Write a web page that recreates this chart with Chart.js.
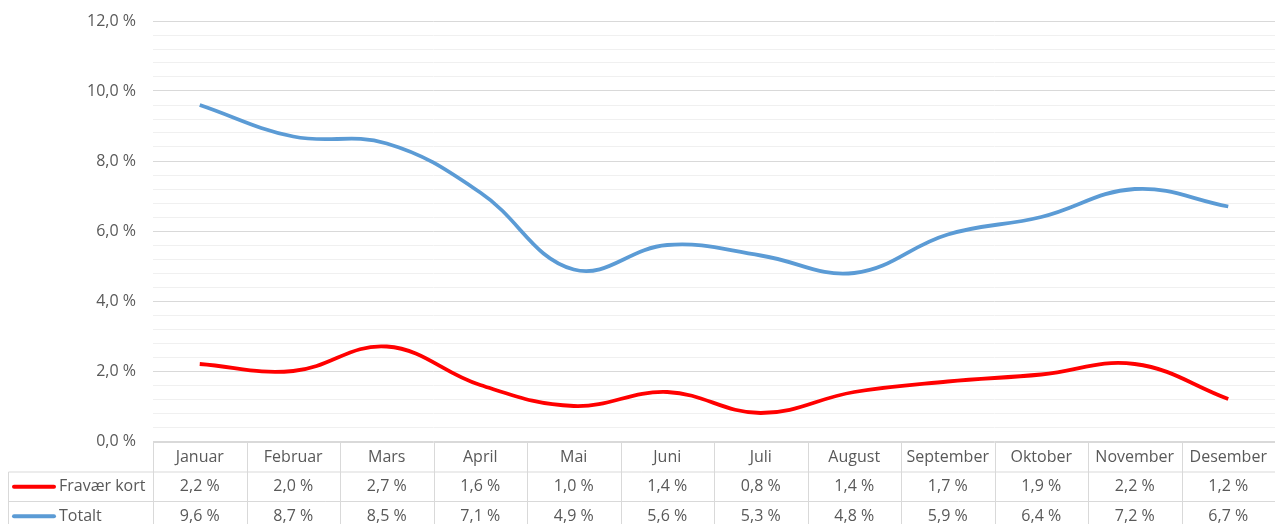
<!DOCTYPE html>
<html>
<head>
<meta charset="utf-8">
<script src="https://cdn.jsdelivr.net/npm/chart.js@4.4.1/dist/chart.umd.min.js"></script>
<style>
  html, body { margin: 0; padding: 0; background: #fff; }
  #wrap { width: 1275px; height: 524px; position: relative; }
</style>
</head>
<body>
<div id="wrap"><canvas id="c"></canvas></div>
<script>
const months = ['Januar','Februar','Mars','April','Mai','Juni','Juli','August','September','Oktober','November','Desember'];
const fravaerKort = [2.2, 2.0, 2.7, 1.6, 1.0, 1.4, 0.8, 1.4, 1.7, 1.9, 2.2, 1.2];
const totalt = [9.6, 8.7, 8.5, 7.1, 4.9, 5.6, 5.3, 4.8, 5.9, 6.4, 7.2, 6.7];
const seriesNames = ['Fravær kort', 'Totalt'];
const seriesColors = ['#FF0000', '#5B9BD5'];

const FONT = '"Open Sans", "Liberation Sans", sans-serif';
const TEXT = '#595959';
const fmt = v => v.toFixed(1).replace('.', ',') + ' %';
const isMajor = v => Math.abs(v / 2 - Math.round(v / 2)) < 1e-6;

const tablePlugin = {
  id: 'dataTable',
  afterDraw(chart) {
    const ctx = chart.ctx;
    const x = chart.scales.x;
    const area = chart.chartArea;
    const n = months.length;
    const colW = (x.right - x.left) / n;
    const top = area.bottom + 1.5;
    const rowH = 29.5;
    const legendLeft = 8.5;
    const rows = [fravaerKort, totalt];
    ctx.save();
    ctx.strokeStyle = '#D9D9D9';
    ctx.lineWidth = 1;
    ctx.beginPath();
    ctx.moveTo(x.left, top); ctx.lineTo(x.right, top);
    for (let r = 1; r <= 3; r++) {
      const yy = top + rowH * r;
      ctx.moveTo(legendLeft, yy); ctx.lineTo(x.right, yy);
    }
    for (let i = 0; i <= n; i++) {
      const xx = Math.round(x.left + colW * i) + 0.5;
      ctx.moveTo(xx, top); ctx.lineTo(xx, top + rowH * 3);
    }
    ctx.moveTo(legendLeft, top + rowH); ctx.lineTo(legendLeft, top + rowH * 3);
    ctx.stroke();

    ctx.font = '16px ' + FONT;
    ctx.fillStyle = TEXT;
    ctx.textAlign = 'center';
    ctx.textBaseline = 'middle';
    months.forEach((m, i) => {
      const cx = x.getPixelForValue(i);
      ctx.fillText(m, cx, top + rowH / 2);
      rows.forEach((vals, r) => {
        ctx.fillText(fmt(vals[i]), cx, top + rowH * (r + 1.5));
      });
    });
    ctx.textAlign = 'left';
    seriesNames.forEach((name, r) => {
      const cy = top + rowH * (r + 1.5);
      ctx.strokeStyle = seriesColors[r];
      ctx.lineWidth = 4;
      ctx.lineCap = 'round';
      ctx.beginPath();
      ctx.moveTo(14, cy); ctx.lineTo(54, cy);
      ctx.stroke();
      ctx.fillStyle = TEXT;
      ctx.fillText(name, 59, cy);
    });
    ctx.restore();
  }
};

new Chart(document.getElementById('c'), {
  type: 'line',
  data: {
    labels: months,
    datasets: [
      { label: seriesNames[0], data: fravaerKort, borderColor: seriesColors[0], borderWidth: 3.8, pointRadius: 0, tension: 0.4, fill: false },
      { label: seriesNames[1], data: totalt, borderColor: seriesColors[1], borderWidth: 3.8, pointRadius: 0, tension: 0.4, fill: false }
    ]
  },
  options: {
    responsive: true,
    maintainAspectRatio: false,
    animation: false,
    layout: { padding: { top: 21, right: 0, bottom: 83, left: 0 } },
    plugins: { legend: { display: false }, tooltip: { enabled: false } },
    scales: {
      x: { type: 'category', offset: true, display: false },
      y: {
        min: 0, max: 12,
        border: { display: false },
        grid: {
          drawTicks: false,
          color: ctx => isMajor(ctx.tick.value) ? '#D9D9D9' : '#F0F0F0',
          lineWidth: 1
        },
        ticks: {
          stepSize: 0.4,
          maxTicksLimit: 100,
          autoSkip: false,
          padding: 17,
          color: TEXT,
          font: { family: FONT, size: 16 },
          callback: v => isMajor(v) ? fmt(v) : ''
        },
        afterFit(scale) {
          scale.width = 153;
          scale.paddingTop = 0;
          scale.paddingBottom = 0;
        }
      }
    }
  },
  plugins: [tablePlugin]
});
</script>
</body>
</html>
